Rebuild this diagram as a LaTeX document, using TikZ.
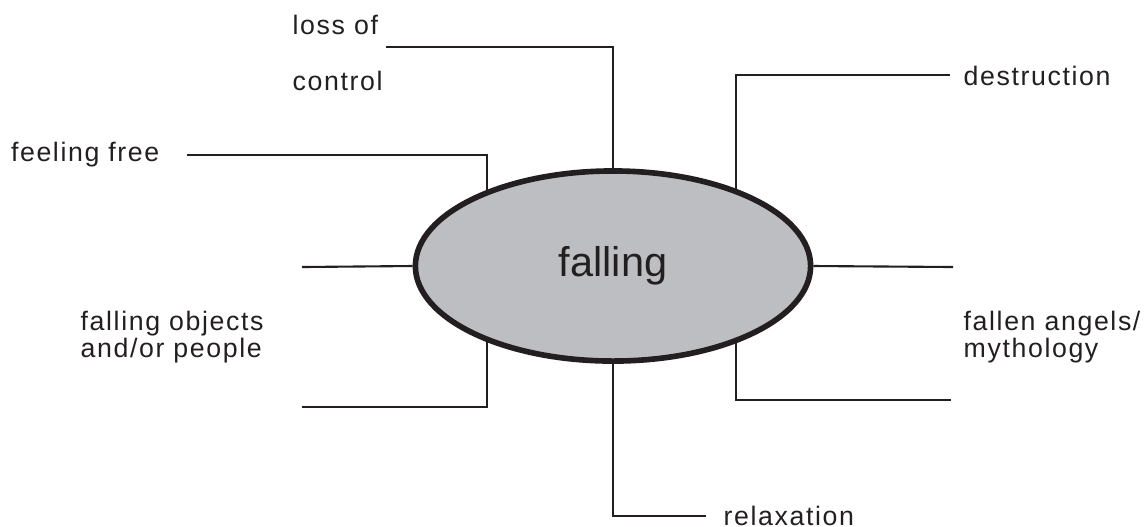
\documentclass[tikz,border=0pt]{standalone}
\usepackage{fontspec}
\setmainfont{Liberation Sans}
\newfontfamily\lblfont[LetterSpace=6]{Liberation Sans}
\usetikzlibrary{shapes.geometric}
\definecolor{ink}{RGB}{35,31,32}
\definecolor{bubble}{RGB}{189,190,194}
\tikzset{
  lbl/.style={font=\lblfont\fontsize{7.6}{7.7}\selectfont, text=ink, inner sep=0pt, align=left},
  wire/.style={draw=ink, line width=0.6pt},
  hub/.style={ellipse, draw=ink, fill=bubble, line width=1.6pt, minimum width=3.95cm,
    minimum height=1.9cm, inner sep=0pt, text=ink, font=\fontsize{11.8}{13}\selectfont}
}
\begin{document}
\begin{tikzpicture}[x=0.01cm,y=-0.01cm]
\useasboundingbox (0,0) rectangle (1145,526);
\node[hub] (fall) at (613,266) {falling};

\node[lbl,anchor=north west] (loss) at (292,14) {loss of\\[0.29cm]control};
\node[lbl,anchor=base east] (free) at (160,161) {feeling free};
\node[lbl,anchor=base west] (dest) at (963,85) {destruction};
\node[lbl,anchor=north west] (objects) at (80,310) {falling objects\\and/or people};
\node[lbl,anchor=north west] (angels) at (963,310) {fallen angels/\\mythology};
\node[lbl,anchor=base west] (relax) at (723,525) {relaxation};

\coordinate (lossend) at (386,47);
\coordinate (freeend) at (187,155);
\coordinate (destend) at (950,75);
\coordinate (objtop) at (302,267);
\coordinate (objbot) at (302,407);
\coordinate (angtop) at (953,267);
\coordinate (angbot) at (951,400);
\coordinate (relaxend) at (706,516);

\draw[wire] (fall.north) |- (lossend);
\draw[wire] (fall.149) |- (freeend);
\draw[wire] (fall.32) |- (destend);
\draw[wire] (fall.west) -- (objtop);
\draw[wire] (fall.211) |- (objbot);
\draw[wire] (fall.east) -- (angtop);
\draw[wire] (fall.-32) |- (angbot);
\draw[wire] (fall.south) |- (relaxend);
\end{tikzpicture}
\end{document}
